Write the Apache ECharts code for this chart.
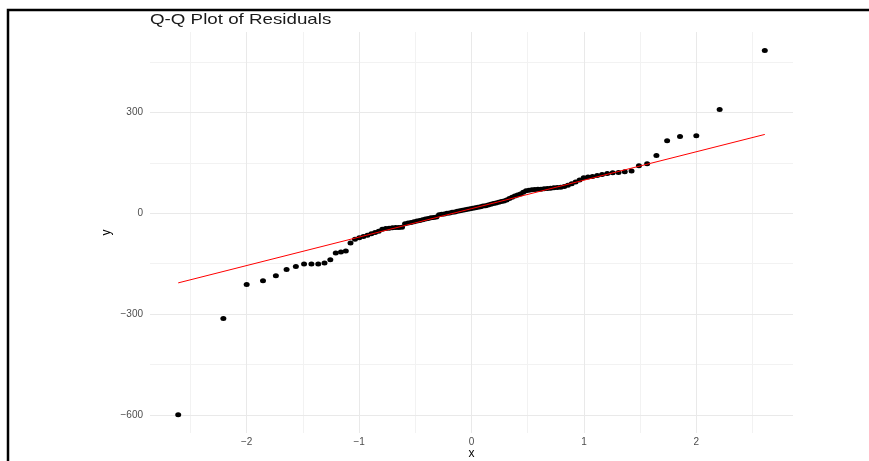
<!DOCTYPE html>
<html>
<head>
<meta charset="utf-8">
<script src="https://cdn.jsdelivr.net/npm/echarts@6/dist/echarts.min.js"></script>
<style>
html,body{margin:0;padding:0;background:#fff;}
#chart{width:869px;height:461px;}
</style>
</head>
<body>
<div id="chart"></div>
<script>
// Theoretical normal quantiles (n = 110)
const theoreticalQ = [
 -2.609,-2.2075,-2.0,-1.8548,-1.7403,-1.6449,-1.5625,-1.4895,-1.4237,-1.3635,
 -1.3079,-1.2561,-1.2074,-1.1615,-1.1179,-1.0763,-1.0364,-0.9982,-0.9614,-0.9258,
 -0.8914,-0.858,-0.8255,-0.7939,-0.763,-0.7329,-0.7034,-0.6745,-0.6462,-0.6183,
 -0.591,-0.564,-0.5375,-0.5114,-0.4856,-0.4601,-0.4349,-0.41,-0.3853,-0.3609,
 -0.3367,-0.3126,-0.2888,-0.2651,-0.2416,-0.2182,-0.1949,-0.1718,-0.1487,-0.1257,
 -0.1027,-0.0798,-0.057,-0.0342,-0.0114,
 0.0114,0.0342,0.057,0.0798,0.1027,0.1257,0.1487,0.1718,0.1949,0.2182,
 0.2416,0.2651,0.2888,0.3126,0.3367,0.3609,0.3853,0.41,0.4349,0.4601,
 0.4856,0.5114,0.5375,0.564,0.591,0.6183,0.6462,0.6745,0.7034,0.7329,
 0.763,0.7939,0.8255,0.858,0.8914,0.9258,0.9614,0.9982,1.0364,1.0763,
 1.1179,1.1615,1.2074,1.2561,1.3079,1.3635,1.4237,1.4895,1.5625,1.6449,
 1.7403,1.8548,2.0,2.2075,2.609
];
// Sample quantiles (sorted residuals)
const sampleQ = [
 -600,-313,-212,-201,-186,-167,-158,-151,-151,-151,
 -148,-138,-118,-115,-112,-88,-77,-73,-69,-65,
 -61,-57,-53,-47,-45,-44,-43,-42,-42,-41,
 -31,-29,-27,-25,-23,-21,-19,-17,-15,-13,
 -12,-11,-4,-3,-2,0,1,3,4,6,
 8,9,11,12,14,
 15,17,18,20,22,23,25,27,29,31,
 33,35,37,40,44,48,52,55,58,63,
 67,69,70,71,72,72,73,74,75,76,
 77,78,80,84,88,93,99,106,108,110,
 113,116,119,121,122,124,126,142,148,172,
 216,229,231,309,485
];
// Reference line endpoints
const lineX = [-2.609, 2.609];
const lineY = [-207, 235];
// Ticks / grid
const xTicks = [-2, -1, 0, 1, 2];
const xMinor = [-2.5, -1.5, -0.5, 0.5, 1.5, 2.5];
const yTicks = [-600, -300, 0, 300];
const yMinor = [-450, -150, 150, 450];
const titleText = 'Q-Q Plot of Residuals';

const pts = theoreticalQ.map((x, i) => [x, sampleQ[i]]);
const linePts = lineX.map((x, i) => [x, lineY[i]]);
const fmt = v => String(v).replace('-', '\u2212');

const gridLines = [];
xMinor.forEach(v => gridLines.push({xAxis: v, lineStyle: {color: '#f2f2f2', width: 1, type: 'solid'}}));
yMinor.forEach(v => gridLines.push({yAxis: v, lineStyle: {color: '#f2f2f2', width: 1, type: 'solid'}}));
xTicks.forEach(v => gridLines.push({xAxis: v, lineStyle: {color: '#e9e9e9', width: 1, type: 'solid'}}));
yTicks.forEach(v => gridLines.push({yAxis: v, lineStyle: {color: '#e9e9e9', width: 1, type: 'solid'}}));

const FONT = 'Liberation Sans, Arial, sans-serif';
const chart = echarts.init(document.getElementById('chart'), null, {renderer: 'canvas'});
chart.setOption({
  animation: false,
  backgroundColor: '#ffffff',
  textStyle: {fontFamily: FONT},
  grid: {left: 150, right: 76, top: 32, bottom: 28, containLabel: false, outerBoundsMode: 'none'},
  xAxis: {
    type: 'value', min: -2.86, max: 2.86,
    name: 'x', nameLocation: 'middle', nameGap: 15, nameMoveOverlap: false,
    nameTextStyle: {fontSize: 12, color: '#000'},
    axisLine: {show: false}, axisTick: {show: false}, splitLine: {show: false},
    axisLabel: {customValues: xTicks, formatter: fmt, fontSize: 10, color: '#4d4d4d', margin: 4}
  },
  yAxis: {
    type: 'value', min: -654, max: 540,
    name: 'y', nameLocation: 'middle', nameGap: 37, nameRotate: 90, nameMoveOverlap: false,
    nameTextStyle: {fontSize: 12, color: '#000'},
    axisLine: {show: false}, axisTick: {show: false}, splitLine: {show: false},
    axisLabel: {customValues: yTicks, formatter: fmt, fontSize: 10, color: '#4d4d4d', margin: 7}
  },
  graphic: [
    {
      type: 'polyline',
      shape: {points: [[8, 461], [8, 10], [869, 10]]},
      style: {stroke: '#000', lineWidth: 2.5, fill: null},
      z: 100
    },
    {
      type: 'text', x: 150, y: 20, scaleX: 1.25,
      style: {text: titleText, font: 'normal 15px ' + FONT, fill: '#1a1a1a', verticalAlign: 'middle', align: 'left'},
      z: 100
    }
  ],
  series: [
    {
      type: 'scatter', data: [], silent: true, z: 0,
      markLine: {silent: true, z: 0, symbol: ['none', 'none'], label: {show: false}, data: gridLines, animation: false}
    },
    {
      type: 'scatter', data: pts, symbol: 'circle', symbolSize: [6, 5],
      itemStyle: {color: '#000', opacity: 1}, z: 3
    },
    {
      type: 'line', data: linePts, symbol: 'none', showSymbol: false,
      lineStyle: {color: '#ff0000', width: 1}, z: 4
    }
  ]
});
</script>
</body>
</html>
